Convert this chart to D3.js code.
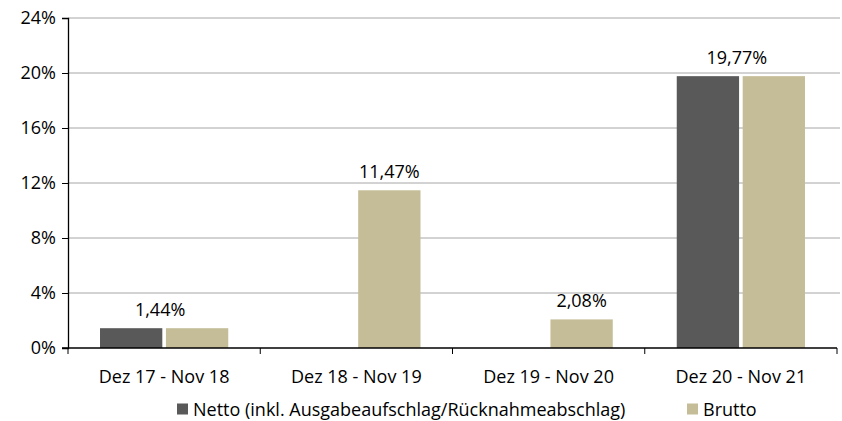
<!DOCTYPE html>
<html><head><meta charset="utf-8">
<script src="https://cdn.jsdelivr.net/npm/d3@7"></script>
<style>body{margin:0;background:#fff}svg{display:block}text{font-family:"Open Sans",sans-serif;fill:#000}</style>
</head><body><svg id="c" width="842" height="421"></svg>
<script>
const categories = ["Dez 17 - Nov 18","Dez 18 - Nov 19","Dez 19 - Nov 20","Dez 20 - Nov 21"];
const seriesNames = ["Netto (inkl. Ausgabeaufschlag/Rücknahmeabschlag)","Brutto"];
const netto = [1.44, null, null, 19.77];
const brutto = [1.44, 11.47, 2.08, 19.77];
const yTicks = [0,4,8,12,16,20,24];
const colors = ["#595959","#c4bd97"];

const svg = d3.select("#c");
const L=68, R=837, T=18, B=348;
const FS = 18;
const y = d3.scaleLinear().domain([0,24]).range([B,T]);
const x0 = d3.scaleBand().domain(categories).range([L,R]).padding(0);
const x1 = d3.scaleBand().domain(seriesNames).range([32, x0.bandwidth()-32]).paddingInner(0.055);

svg.append("g").selectAll("line").data(yTicks.filter(t=>t>0)).join("line")
  .attr("x1",L).attr("x2",R+3).attr("y1",d=>y(d)).attr("y2",d=>y(d))
  .attr("stroke","#a6a6a6").attr("stroke-width",1);

const series = [netto, brutto];
const bars = [];
categories.forEach((c,i)=>series.forEach((s,j)=>{ if(s[i]!=null) bars.push({c,j,v:s[i]}); }));
svg.append("g").selectAll("rect").data(bars).join("rect")
  .attr("x",d=>x0(d.c)+x1(seriesNames[d.j])).attr("width",x1.bandwidth())
  .attr("y",d=>y(d.v)).attr("height",d=>y(0)-y(d.v)).attr("fill",d=>colors[d.j]);

categories.forEach((c,i)=>{
  const present = series.map((s,j)=>({j,v:s[i]})).filter(d=>d.v!=null);
  const xs = present.map(d=>x0(c)+x1(seriesNames[d.j])+x1.bandwidth()/2);
  const cx = d3.mean(xs), v = d3.max(present,d=>d.v);
  svg.append("text").attr("x",cx-(present.length>1?4:0)).attr("y",y(v)-12).attr("text-anchor","middle")
    .attr("font-size",FS).text(v.toFixed(2).replace(".",",")+"%");
});

const ya = svg.append("g").attr("transform",`translate(${L},0)`)
  .call(d3.axisLeft(y).tickValues(yTicks).tickSize(6).tickPadding(6).tickFormat(d=>d+"%"));
ya.select(".domain").attr("stroke","#000").attr("stroke-width",1.3);
ya.selectAll(".tick line").attr("stroke","#000");
ya.selectAll("text").attr("font-size",FS).attr("font-family",null);

const xa = svg.append("g").attr("transform",`translate(0,${B})`);
xa.append("line").attr("x1",L-6).attr("x2",R).attr("y1",0).attr("y2",0).attr("stroke","#000").attr("stroke-width",1.3);
const bounds = categories.map(c=>x0(c)).concat([R]);
xa.selectAll("line.t").data(bounds).join("line").attr("class","t")
  .attr("x1",d=>d).attr("x2",d=>d).attr("y1",0).attr("y2",6).attr("stroke","#000");
xa.selectAll("text").data(categories).join("text")
  .attr("x",d=>x0(d)+x0.bandwidth()/2).attr("y",34.5).attr("text-anchor","middle")
  .attr("font-size",FS).text(d=>d);

const lg = svg.append("g");
const items = [{x:177,name:seriesNames[0],col:colors[0]},{x:687,name:seriesNames[1],col:colors[1]}];
items.forEach(it=>{
  lg.append("rect").attr("x",it.x).attr("y",403.5).attr("width",11).attr("height",11).attr("fill",it.col);
  lg.append("text").attr("x",it.x+16).attr("y",415.5).attr("font-size",FS).text(it.name);
});
</script></body></html>
